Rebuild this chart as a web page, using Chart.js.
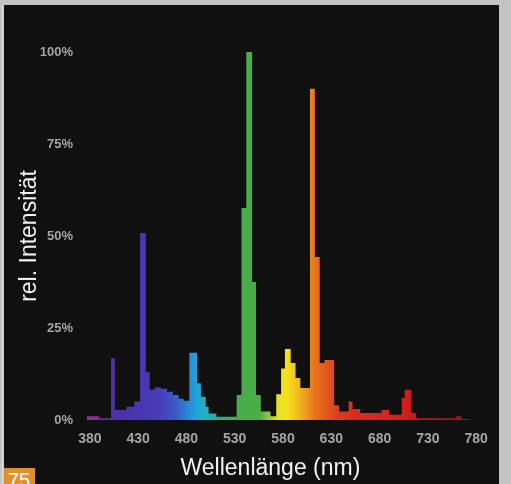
<!DOCTYPE html>
<html>
<head>
<meta charset="utf-8">
<script src="https://cdn.jsdelivr.net/npm/chart.js@4.4.1/dist/chart.umd.min.js"></script>
<style>
  html, body { margin: 0; padding: 0; }
  body { width: 511px; height: 484px; overflow: hidden; background: #c3c3c3; position: relative; }
  #edge { position: absolute; left: 2px; top: 5px; width: 1px; height: 479px; background: #e2e2e2; }
  #panel { position: absolute; left: 4px; top: 5px; width: 495px; height: 479px; background: #101010; }
  #page { position: absolute; left: 4px; top: 468px; width: 31px; height: 16px; background: #e0902a; overflow: hidden;
          color: #fff; font: 20px "Liberation Sans", Arial, sans-serif; line-height: 20px; padding-left: 4px; box-sizing: border-box; }
  #page span { position: relative; top: 2px; }
</style>
</head>
<body>
<div id="edge"></div>
<div id="panel"><canvas id="spectrum" width="495" height="479"></canvas></div>
<div id="page"><span>75</span></div>
<script>
// step start wavelength (nm) and relative intensity (%)
const wavelengths = [377, 390, 402, 406, 418, 426, 432, 438, 442, 447,
                     454, 460, 466, 472, 477, 483, 491, 495, 500, 503,
                     511, 532, 537, 542, 548, 552, 557, 567, 573, 578,
                     582, 588, 593, 598, 608, 613, 618, 623, 633, 638,
                     648, 652, 660, 682, 690, 703, 706, 713, 718, 759,
                     765, 773];
const intensity = [1.0, 0.5, 16.8, 2.7, 3.6, 5.0, 50.8, 13.0, 8.2, 8.8,
                   8.5, 7.7, 6.8, 5.8, 5.2, 18.3, 10.0, 6.3, 3.6, 1.8,
                   0.9, 6.8, 57.6, 100, 37.5, 6.8, 2.3, 1.0, 7.0, 14.0,
                   19.3, 15.5, 11.4, 8.7, 90, 44.3, 15.5, 16.3, 4.0, 2.3,
                   5.0, 3.0, 1.9, 2.7, 1.4, 6.0, 8.2, 1.9, 0.5, 1.0,
                   0.3, 0];
const xTicks = [380, 430, 480, 530, 580, 630, 680, 730, 780];
const yTicks = [0, 25, 50, 75, 100];
const xTitle = 'Wellenlänge (nm)';
const yTitle = 'rel. Intensität';

// spectrum colours along the x axis
const spectrumStops = [
    [375, '#9c3a8c'], [388, '#7a2c96'], [398, '#5530a0'], [410, '#4a32a8'],
    [440, '#4a38b2'], [455, '#4640ba'], [468, '#3a58c6'], [480, '#2c82d6'],
    [490, '#22a2dc'], [500, '#1fb2c0'], [512, '#22b090'], [525, '#3aae5c'],
    [535, '#44ad4a'], [556, '#4cae46'], [566, '#9cc83a'], [574, '#e6e024'],
    [584, '#f4e21e'], [594, '#f4c01e'], [604, '#ee9a1e'], [612, '#e8761e'],
    [624, '#e25a1e'], [638, '#dc3c20'], [655, '#d82a22'], [700, '#d82020'],
    [720, '#c01818'], [785, '#8c1414']
];

const font = '"Liberation Sans", Arial, sans-serif';

function spectrumFill(context) {
    const { ctx, chartArea, scales } = context.chart;
    if (!chartArea) return null;
    const x0 = chartArea.left, x1 = chartArea.right;
    const g = ctx.createLinearGradient(x0, 0, x1, 0);
    spectrumStops.forEach(([nm, c]) => {
        const t = (scales.x.getPixelForValue(nm) - x0) / (x1 - x0);
        g.addColorStop(Math.min(1, Math.max(0, t)), c);
    });
    return g;
}

const xTitlePlugin = {
    id: 'xTitle',
    afterDraw(chart) {
        const { ctx, scales: { x } } = chart;
        ctx.save();
        ctx.font = '23px ' + font;
        ctx.fillStyle = '#f2f2f2';
        ctx.textAlign = 'center';
        ctx.textBaseline = 'alphabetic';
        ctx.fillText(xTitle, x.getPixelForValue(567), x.bottom - 9.5);
        ctx.restore();
    }
};

new Chart(document.getElementById('spectrum'), {
    type: 'line',
    data: {
        datasets: [{
            data: wavelengths.map((w, i) => ({ x: w, y: intensity[i] })),
            stepped: true,
            fill: 'origin',
            backgroundColor: spectrumFill,
            borderWidth: 0,
            borderColor: 'rgba(0,0,0,0)',
            pointRadius: 0
        }]
    },
    plugins: [xTitlePlugin],
    options: {
        responsive: false,
        animation: false,
        layout: { padding: { top: 47, right: 14, left: 0, bottom: 0 } },
        plugins: { legend: { display: false }, tooltip: { enabled: false } },
        scales: {
            x: {
                type: 'linear',
                min: 375,
                max: 785,
                grid: { display: false, drawTicks: false },
                border: { display: false },
                afterBuildTicks: axis => { axis.ticks = xTicks.map(v => ({ value: v })); },
                afterFit: scale => { scale.height = 64; },
                ticks: {
                    padding: 11,
                    color: '#a5a5a5',
                    font: { family: font, size: 14, weight: 'bold' },
                    maxRotation: 0,
                    autoSkip: false
                }
            },
            y: {
                min: 0,
                max: 100,
                grid: { display: false, drawTicks: false },
                border: { display: false },
                afterBuildTicks: axis => { axis.ticks = yTicks.map(v => ({ value: v })); },
                afterFit: scale => { scale.width = 81; },
                ticks: {
                    padding: 12,
                    color: '#a5a5a5',
                    font: { family: font, size: 13, weight: 'bold' },
                    callback: v => v + '%'
                },
                title: {
                    display: true,
                    text: yTitle,
                    color: '#f2f2f2',
                    font: { family: font, size: 23 },
                    padding: { top: 12, bottom: 0 }
                }
            }
        }
    }
});
</script>
</body>
</html>
